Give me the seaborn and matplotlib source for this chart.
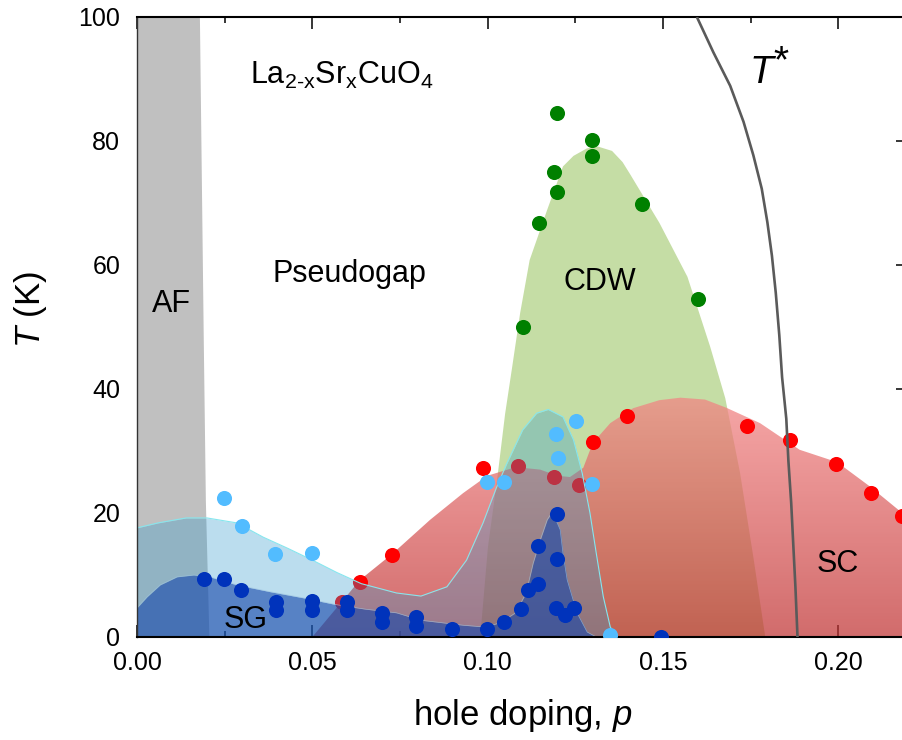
import numpy as np
import pandas as pd
import matplotlib
matplotlib.use("Agg")
import matplotlib.pyplot as plt
import seaborn as sns
from matplotlib.colors import LinearSegmentedColormap
from matplotlib.ticker import MultipleLocator

# ---------------- data ----------------
# AF region right boundary (p at given T)
af_T = [0, 22, 48, 100]
af_p = [0.0205, 0.0195, 0.0189, 0.0178]

# CDW dome outline
cdw_p = [0.0979, 0.1001, 0.1027, 0.105, 0.107, 0.1093, 0.112, 0.117, 0.1215, 0.1245,
         0.1283, 0.1315, 0.1355, 0.1385, 0.1407, 0.149, 0.157, 0.1635, 0.1678, 0.172,
         0.1758, 0.1792]
cdw_T = [0, 14.5, 25.3, 36, 43.5, 52.3, 60.8, 68.9, 75.9, 77.6,
         78.8, 79.1, 78.4, 76.6, 74.6, 66.8, 58.1, 46.8, 38.5, 26.5,
         12.9, 0]

# SC dome upper boundary
sc_p = [0.050, 0.0636, 0.073, 0.0836, 0.093, 0.0999, 0.108, 0.115, 0.120, 0.1235, 0.1273,
        0.130, 0.135, 0.1415, 0.149, 0.155, 0.162, 0.168, 0.1777, 0.189, 0.1997, 0.209, 0.220]
sc_T = [0, 9.2, 13.5, 18.9, 23.2, 26.0, 27.4, 27.0, 26.0, 25.8, 27.3,
        31.3, 34.5, 36.9, 38.2, 38.6, 38.3, 37.0, 34.5, 30.2, 28.2, 24.3, 19.2]

# light-blue (spin-glass onset / SDW) boundary
lb_p = [0, 0.006, 0.014, 0.020, 0.0285, 0.036, 0.043, 0.050, 0.057, 0.064, 0.074, 0.081,
        0.0884, 0.094, 0.0987, 0.1026, 0.1055, 0.110, 0.114, 0.1173, 0.1215, 0.1245,
        0.127, 0.1292, 0.131, 0.133, 0.135, 0.137]
lb_T = [17.6, 18.4, 19.2, 19.2, 18.4, 16.1, 14.3, 12.4, 10.4, 8.6, 7.1, 6.6,
        8.1, 12.4, 18.4, 24.2, 28, 33.4, 36.1, 36.7, 35.5, 31.8,
        26.4, 20, 13.5, 6.5, 1.6, 0]

# dark-blue (SG) boundary
db_p = [0, 0.0029, 0.0066, 0.0114, 0.0162, 0.0208, 0.0285, 0.038, 0.0476, 0.057, 0.065,
        0.074, 0.081, 0.093, 0.0995, 0.1036, 0.108, 0.111, 0.113, 0.115, 0.117, 0.1185,
        0.1207, 0.1215, 0.1227, 0.1255, 0.1284, 0.131]
db_T = [4.7, 6.5, 8.4, 9.7, 10.0, 9.7, 8.4, 7.3, 6.3, 5.2, 4.5,
        3.9, 2.7, 1.9, 1.6, 2.3, 3.9, 7.1, 11.9, 15.6, 18.9, 20.2,
        17.3, 13.5, 9.2, 3.9, 0.8, 0]

# T* line
ts_p = [0.1597, 0.1644, 0.1692, 0.1730, 0.1758, 0.1782, 0.1798, 0.1811, 0.1822, 0.1832,
        0.1840, 0.1847, 0.1852, 0.1858, 0.1866, 0.1872, 0.1878, 0.1884]
ts_T = [100, 94.3, 88.9, 83.1, 77.7, 72.3, 66.9, 61.5, 55.5, 48.7,
        41.9, 38.0, 35.2, 28.4, 21.6, 14.8, 8.1, 0]

# data points
green_p = [0.1197, 0.1297, 0.1297, 0.119, 0.1197, 0.1147, 0.144, 0.1599, 0.110]
green_T = [84.5, 80.1, 77.6, 75.0, 71.7, 66.8, 69.8, 54.5, 50.0]

red_p = [0.0585, 0.0636, 0.0727, 0.0987, 0.1087, 0.119, 0.126, 0.130, 0.1398,
         0.174, 0.1862, 0.1995, 0.2094, 0.2183]
red_T = [5.6, 8.9, 13.2, 27.2, 27.6, 25.8, 24.5, 31.5, 35.6,
         34.0, 31.8, 27.9, 23.2, 19.5]

lblue_p = [0.0248, 0.030, 0.0394, 0.050, 0.0999, 0.1048, 0.1195, 0.1252, 0.120, 0.1298, 0.135]
lblue_T = [22.4, 17.9, 13.4, 13.6, 25.0, 25.0, 32.8, 34.9, 28.9, 24.6, 0.4]

dblue_p = [0.0191, 0.0248, 0.0297, 0.0397, 0.0397, 0.050, 0.050, 0.060, 0.060, 0.0699,
           0.0699, 0.0796, 0.0796, 0.0899, 0.0999, 0.1048, 0.1096, 0.1115, 0.1145, 0.1145,
           0.1197, 0.1197, 0.1195, 0.1221, 0.1247, 0.1495]
dblue_T = [9.4, 9.4, 7.6, 5.7, 4.4, 5.8, 4.4, 5.6, 4.4, 3.9,
           2.5, 3.2, 1.7, 1.3, 1.3, 2.5, 4.5, 7.6, 8.6, 14.7,
           19.9, 12.6, 4.6, 3.6, 4.6, 0.0]

x_ticks = [0.00, 0.05, 0.10, 0.15, 0.20]
x_ticklabels = ["0.00", "0.05", "0.10", "0.15", "0.20"]
y_ticks = [0, 20, 40, 60, 80, 100]
y_ticklabels = ["0", "20", "40", "60", "80", "100"]

# ---------------- style ----------------
sns.set_style("ticks")
plt.rcParams["font.family"] = ["Liberation Sans", "DejaVu Sans"]
plt.rcParams["mathtext.fontset"] = "custom"
plt.rcParams["mathtext.rm"] = "Liberation Sans"
plt.rcParams["mathtext.it"] = "Liberation Sans:italic"
plt.rcParams["mathtext.bf"] = "Liberation Sans:bold"
plt.rcParams["text.color"] = "black"
plt.rcParams["axes.labelcolor"] = "black"
plt.rcParams["xtick.color"] = "black"
plt.rcParams["ytick.color"] = "black"

fig = plt.figure(figsize=(9.02, 7.40), dpi=100)
ax = fig.add_axes([137 / 902, 103 / 740, 771.3 / 902, 620 / 740])
ax.set_axisbelow(True)

# AF region
ax.fill_betweenx(af_T, 0, af_p, color="#c0c0c0", lw=0, zorder=1.0)

# CDW dome
ax.fill(cdw_p, cdw_T, color="#c5dda5", lw=0, zorder=1.1)

# SC dome with vertical gradient
sc_poly = ax.fill_between(sc_p, 0, sc_T, facecolor="none", edgecolor="none", zorder=1.2)
sc_cmap = LinearSegmentedColormap.from_list("sc", ["#c03232", "#f38484"])
grad = np.linspace(0, 1, 256).reshape(-1, 1)
im = ax.imshow(grad, cmap=sc_cmap, extent=[0, 0.22, 0, max(sc_T)], origin="lower",
               aspect="auto", alpha=0.72, zorder=1.2, interpolation="bilinear")
im.set_clip_path(sc_poly.get_paths()[0], transform=ax.transData)

# red Tc points (under the blue regions)
sns.scatterplot(x=red_p, y=red_T, color="#ff0000", s=118, linewidth=0, zorder=1.3,
                ax=ax, legend=False)

# light-blue region
ax.fill_between(lb_p, 0, lb_T, color=(0.2, 0.6, 0.8), alpha=0.33, lw=0, zorder=1.4)
ax.plot(lb_p, lb_T, color="#86e6ee", lw=0.8, zorder=1.45)

# dark-blue SG region
ax.fill_between(db_p, 0, db_T, color=(0.08, 0.27, 0.67), alpha=0.6, lw=0, zorder=1.5)
ax.plot(db_p, db_T, color="#9cc3e0", lw=0.5, alpha=0.7, zorder=1.55)

# points on top
sns.scatterplot(x=lblue_p, y=lblue_T, color="#52bcff", s=118, linewidth=0, zorder=3.0,
                ax=ax, legend=False)
sns.scatterplot(x=dblue_p, y=dblue_T, color="#0033bb", s=118, linewidth=0, zorder=3.1,
                ax=ax, legend=False)
sns.scatterplot(x=green_p, y=green_T, color="#008000", s=118, linewidth=0, zorder=3.2,
                ax=ax, legend=False)

# T* line
ax.plot(ts_p, ts_T, color="#5a5a5a", lw=1.9, zorder=3.3, solid_capstyle="butt",
        solid_joinstyle="round")

# ---------------- labels / texts ----------------
fs_lab = 22
ax.text(0.03224, 89.2, r"La$_{2\text{-x}}$Sr$_{\mathrm{x}}$CuO$_{4}$", fontsize=fs_lab,
        ha="left", va="baseline", zorder=4)
ax.text(0.0605, 57.3, "Pseudogap", fontsize=fs_lab, ha="center", va="baseline", zorder=4)
ax.text(0.0097, 52.4, "AF", fontsize=fs_lab, ha="center", va="baseline", zorder=4)
ax.text(0.132, 56.0, "CDW", fontsize=fs_lab, ha="center", va="baseline", zorder=4)
ax.text(0.031, 1.5, "SG", fontsize=fs_lab, ha="center", va="baseline", zorder=4)
ax.text(0.1999, 10.5, "SC", fontsize=fs_lab, ha="center", va="baseline", zorder=4)
ax.text(0.1747, 89.4, "T", fontsize=28, fontstyle="italic", ha="left", va="baseline", zorder=4)
ax.text(0.1815, 91.0, "*", fontsize=28, ha="left", va="baseline", zorder=4)

# ---------------- axes ----------------
ax.set_xlim(0, 0.22)
ax.set_ylim(0, 100)
ax.set_xticks(x_ticks)
ax.set_xticklabels(x_ticklabels)
ax.set_yticks(y_ticks)
ax.set_yticklabels(y_ticklabels)
ax.xaxis.set_minor_locator(MultipleLocator(0.025))

ax.tick_params(which="both", direction="in", top=True, right=True, left=True, bottom=True,
               labelright=False, labeltop=False, colors="black")
ax.tick_params(which="major", length=8.6, width=1.1)
ax.tick_params(which="minor", length=4.3, width=1.1)
ax.tick_params(axis="x", which="major", labelsize=18, pad=10)
ax.tick_params(axis="y", which="major", labelsize=18, pad=12)

for side in ["top", "bottom"]:
    ax.spines[side].set_linewidth(1.5)
    ax.spines[side].set_color("black")
ax.spines["left"].set_linewidth(1.0)
ax.spines["left"].set_color("#333333")
ax.spines["right"].set_visible(False)

ax.set_xlabel("hole doping, $p$", fontsize=25)
ax.set_ylabel("$T$ (K)", fontsize=25)
ax.xaxis.set_label_coords(0.4995, -0.097)
ax.yaxis.set_label_coords(-0.114, 0.528)

fig.savefig("out.png", dpi=100)
